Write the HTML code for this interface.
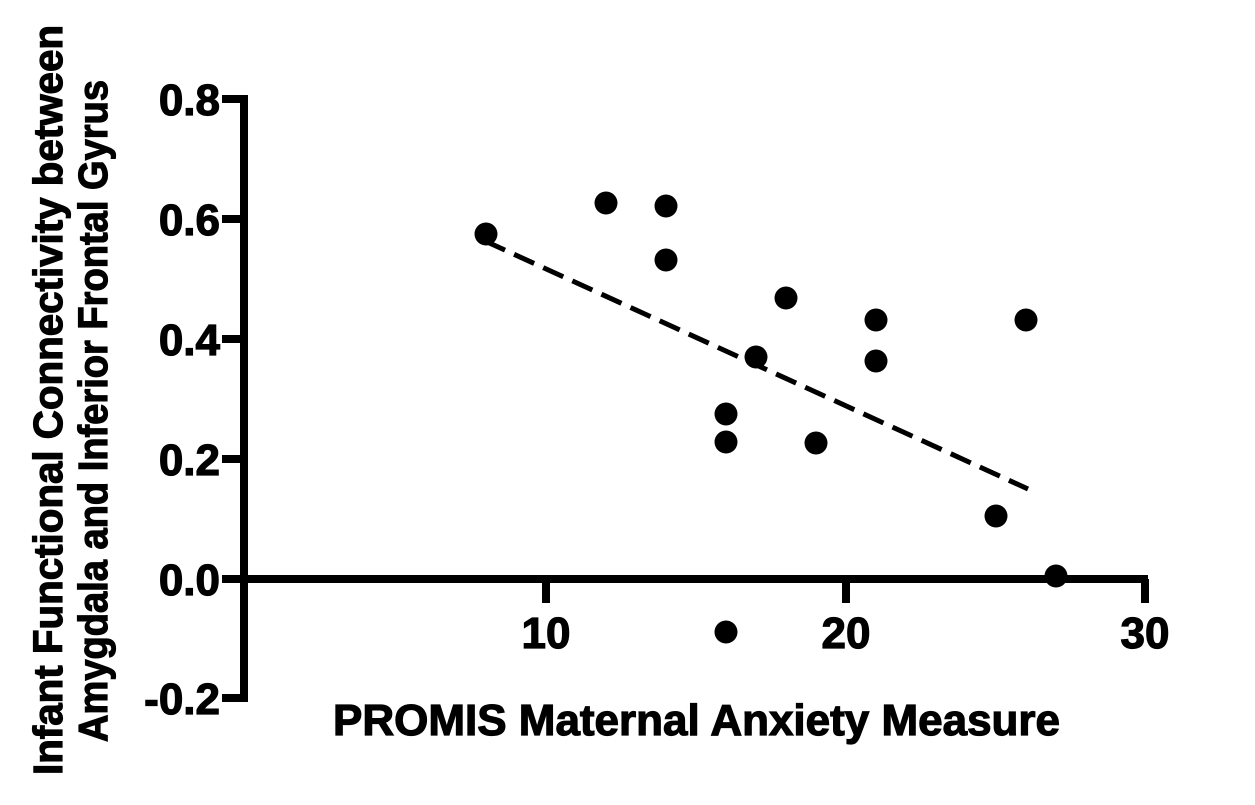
<!DOCTYPE html>
<html><head><style>body{margin:0;background:#fff}</style></head><body>
<svg width="1255" height="800" xmlns="http://www.w3.org/2000/svg" font-family="Liberation Sans, Arial, sans-serif" font-weight="bold">
<rect width="1255" height="800" fill="#fff"/>
<g stroke="#000" stroke-width="8" fill="none">
<path d="M222,99 H244 V698 H222"/>
<line x1="222" y1="219" x2="244" y2="219"/>
<line x1="222" y1="339" x2="244" y2="339"/>
<line x1="222" y1="459" x2="244" y2="459"/>
<line x1="222" y1="579" x2="1148" y2="579"/>
<line x1="546" y1="579" x2="546" y2="603"/>
<line x1="846" y1="579" x2="846" y2="603"/>
<line x1="1145" y1="579" x2="1145" y2="603"/>
</g>
<g stroke="#000" stroke-width="1.2">
<g font-size="44" text-anchor="end">
<text x="220" y="115">0.8</text>
<text x="220" y="235">0.6</text>
<text x="220" y="355">0.4</text>
<text x="220" y="475">0.2</text>
<text x="220" y="595">0.0</text>
<text x="220" y="714">-0.2</text>
</g>
<g font-size="44" text-anchor="middle">
<text x="546" y="648">10</text>
<text x="846" y="648">20</text>
<text x="1145" y="648">30</text>
</g>
<text x="333" y="735" font-size="44" textLength="727" lengthAdjust="spacingAndGlyphs">PROMIS Maternal Anxiety Measure</text>
<text transform="translate(62,775) rotate(-90)" font-size="41" textLength="750" lengthAdjust="spacingAndGlyphs">Infant Functional Connectivity between</text>
<text transform="translate(107,742) rotate(-90)" font-size="41" textLength="662" lengthAdjust="spacingAndGlyphs">Amygdala and Inferior Frontal Gyrus</text>
</g>
<line x1="485" y1="241" x2="1028" y2="489" stroke="#000" stroke-width="5" stroke-dasharray="22,10"/>
<g fill="#000">
<circle cx="486" cy="234" r="11.5"/>
<circle cx="606" cy="203" r="11.5"/>
<circle cx="666" cy="206" r="11.5"/>
<circle cx="666" cy="260" r="11.5"/>
<circle cx="786" cy="298" r="11.5"/>
<circle cx="756" cy="357" r="11.5"/>
<circle cx="876" cy="320" r="11.5"/>
<circle cx="876" cy="361" r="11.5"/>
<circle cx="726" cy="414" r="11.5"/>
<circle cx="726" cy="442" r="11.5"/>
<circle cx="816" cy="443" r="11.5"/>
<circle cx="1026" cy="320" r="11.5"/>
<circle cx="996" cy="516" r="11.5"/>
<circle cx="1056" cy="576" r="11.5"/>
<circle cx="726" cy="632" r="11.5"/>
</g>
</svg>
</body></html>
